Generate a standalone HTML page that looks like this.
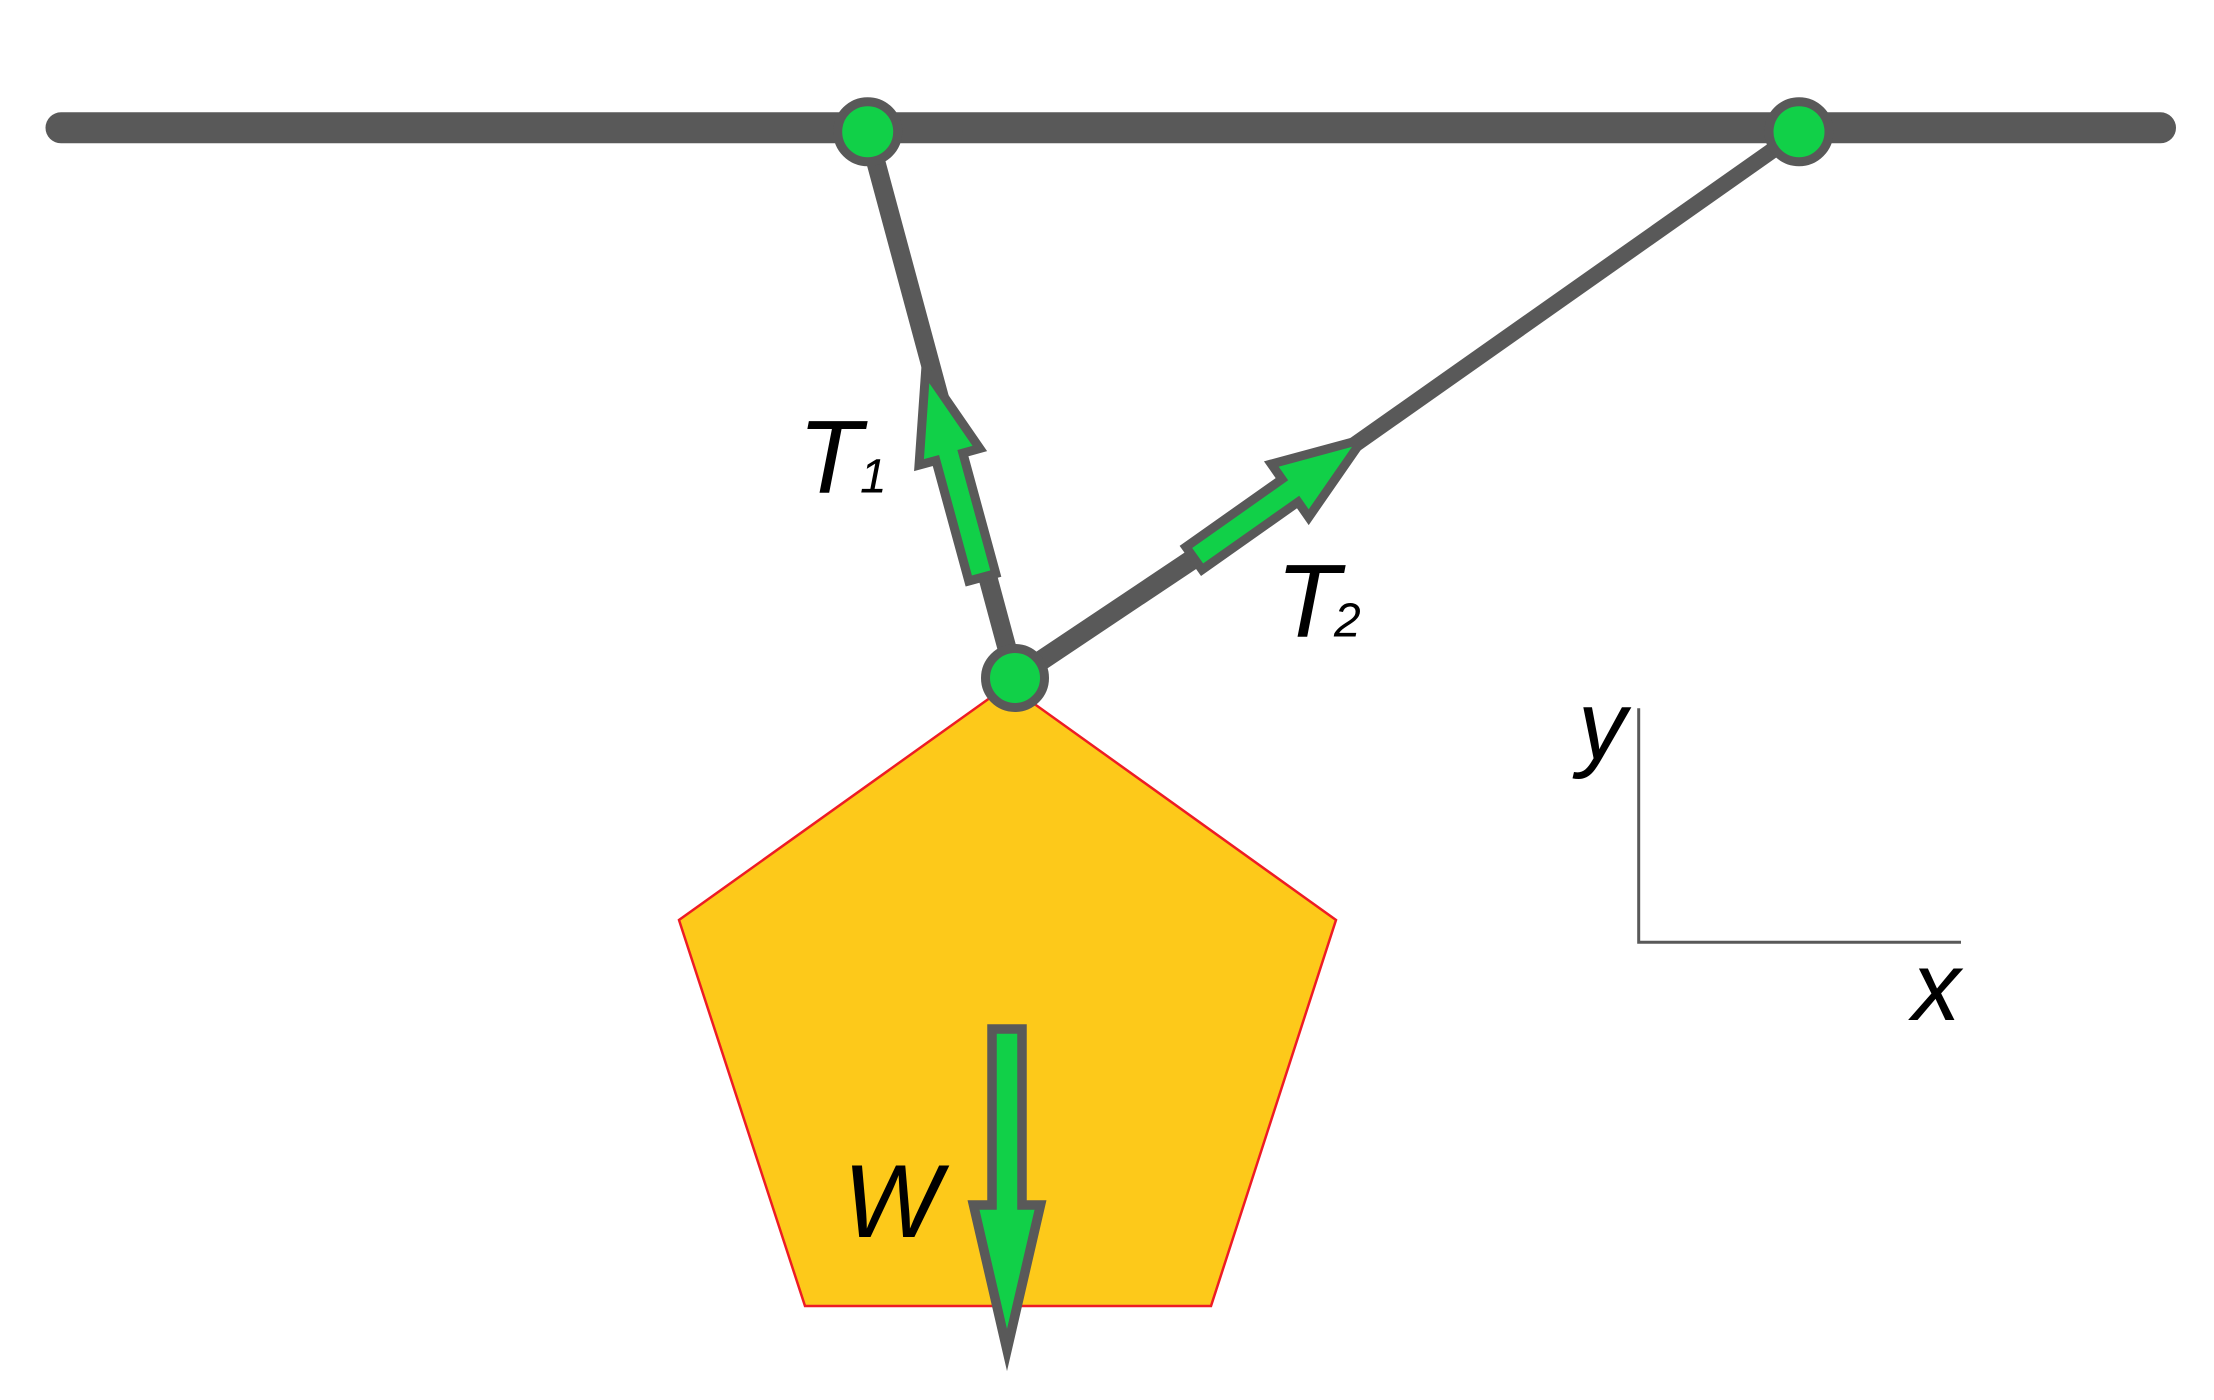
<!DOCTYPE html>
<html>
<head>
<meta charset="utf-8">
<style>
  html, body { margin: 0; padding: 0; background: #ffffff; }
  svg { display: block; }
  text { font-family: "Liberation Sans", "DejaVu Sans", sans-serif; font-style: italic; fill: #000; }
</style>
</head>
<body>
<svg width="2214" height="1400" viewBox="0 0 2214 1400" xmlns="http://www.w3.org/2000/svg">
  <rect x="0" y="0" width="2214" height="1400" fill="#ffffff"/>

  <!-- ceiling bar -->
  <line x1="61" y1="127.8" x2="2160.5" y2="127.8" stroke="#595959" stroke-width="31" stroke-linecap="round"/>

  <!-- ropes -->
  <line x1="867.7" y1="131.7" x2="1015" y2="678" stroke="#595959" stroke-width="19"/>
  <line x1="1799" y1="131.7" x2="1340" y2="455" stroke="#595959" stroke-width="16"/>
  <line x1="1015" y1="678" x2="1196" y2="557" stroke="#595959" stroke-width="20"/>

  <!-- pentagon weight -->
  <polygon points="1008,685 1336,920 1211,1306 805,1306 679,920" fill="#FDC91A" stroke="#EE1C24" stroke-width="2.5" stroke-linejoin="miter"/>

  <!-- T1 arrow -->
  <polygon points="968.8,581.0 995.8,573.6 962.9,453.1 979.8,448.5 925.7,370 919.0,465.1 935.9,460.5"
           fill="#11D048" stroke="#595959" stroke-width="9" stroke-linejoin="miter" stroke-miterlimit="10"/>

  <!-- T2 arrow -->
  <polygon points="1185.9,546.9 1202.1,569.7 1298.1,502.0 1308.7,517.2 1362.7,439.3 1271.3,464.0 1281.9,479.2"
           fill="#11D048" stroke="#595959" stroke-width="9" stroke-linejoin="miter" stroke-miterlimit="10"/>

  <!-- W arrow -->
  <polygon points="992,1029 1022,1029 1022,1205 1040.5,1205 1007,1350 973.5,1205 992,1205"
           fill="#11D048" stroke="#595959" stroke-width="9.5" stroke-linejoin="miter" stroke-miterlimit="10"/>

  <!-- pivots -->
  <circle cx="867.7" cy="131.7" r="30" fill="#11D048" stroke="#595959" stroke-width="9"/>
  <circle cx="1799" cy="131.7" r="30" fill="#11D048" stroke="#595959" stroke-width="9"/>
  <circle cx="1015" cy="678" r="29.5" fill="#11D048" stroke="#595959" stroke-width="9"/>

  <!-- axes -->
  <polyline points="1638.7,708.3 1638.7,942.3 1961,942.3" fill="none" stroke="#595959" stroke-width="3"/>

  <!-- labels -->
  <text x="798" y="492.7" font-size="104">T</text>
  <text x="860" y="492.7" font-size="48">1</text>
  <text x="1276" y="636.7" font-size="104">T</text>
  <text x="1334" y="636.7" font-size="48">2</text>
  <text x="843" y="1237" font-size="104">W</text>
  <text x="1578" y="758.9" font-size="97">y</text>
  <text x="1912" y="1020" font-size="97">x</text>
</svg>
</body>
</html>
